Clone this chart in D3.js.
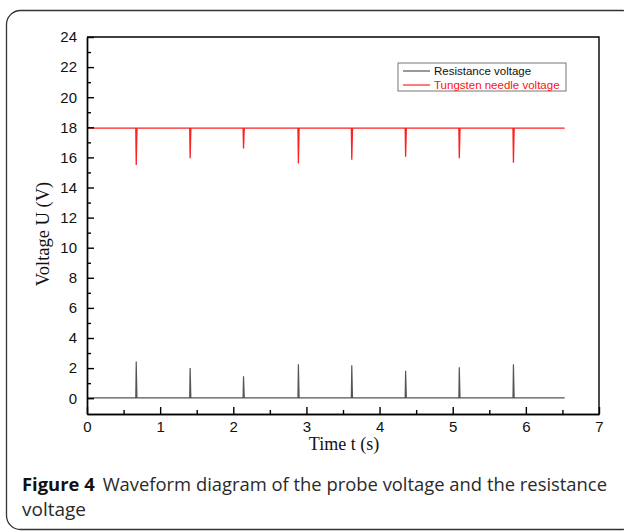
<!DOCTYPE html>
<html>
<head>
<meta charset="utf-8">
<script src="https://cdn.jsdelivr.net/npm/d3@7"></script>
<style>
  body { margin: 0; background: #fff; }
  svg { display: block; }
</style>
</head>
<body>
<script>
// data
var spikeTimes = [0.673, 1.41, 2.14, 2.89, 3.62, 4.356, 5.09, 5.83];
var needleBase = 17.95;
var needleMins = [15.5, 15.95, 16.6, 15.6, 15.85, 16.05, 15.95, 15.65];
var resistBase = 0.02;
var resistPeaks = [2.44, 2.0, 1.46, 2.26, 2.19, 1.82, 2.06, 2.26];
var tEnd = 6.53;
var xTicks = [0, 1, 2, 3, 4, 5, 6, 7];
var yTicks = [0, 2, 4, 6, 8, 10, 12, 14, 16, 18, 20, 22, 24];
var legendNames = ["Resistance voltage", "Tungsten needle voltage"];
var legendColors = ["#555", "#ff2020"];

var svgWidth = 624, svgHeight = 532;
var margin = { top: 37, right: 25, bottom: 118, left: 87 };
var chartWidth = svgWidth - margin.left - margin.right;   // 512
var chartHeight = svgHeight - margin.top - margin.bottom; // 377

var svg = d3.select("body").append("svg")
  .attr("width", svgWidth)
  .attr("height", svgHeight);

// outer rounded frame
svg.append("rect")
  .attr("x", 6.5).attr("y", 10.5)
  .attr("width", 630).attr("height", 519)
  .attr("rx", 14)
  .attr("fill", "none")
  .attr("stroke", "#333")
  .attr("stroke-width", 1.3);

var chartGroup = svg.append("g")
  .attr("transform", `translate(${margin.left}, ${margin.top})`);

var x = d3.scaleLinear().domain([0, 7]).range([0, chartWidth]);
var y = d3.scaleLinear().domain([-1.05, 24]).range([chartHeight, 0]);

// build waveform points from spike list
function wave(base, peaks) {
  var pts = [[0, base]];
  spikeTimes.forEach(function(t, i) {
    pts.push([t - 0.006, base]);
    pts.push([t, peaks[i]]);
    pts.push([t + 0.01, base]);
  });
  pts.push([tEnd, base]);
  return pts;
}

var line = d3.line().x(d => x(d[0])).y(d => y(d[1]));

chartGroup.append("path")
  .attr("d", line(wave(resistBase, resistPeaks)))
  .attr("fill", "none")
  .attr("stroke", legendColors[0])
  .attr("stroke-width", 1.2);

chartGroup.append("path")
  .attr("d", line(wave(needleBase, needleMins)))
  .attr("fill", "none")
  .attr("stroke", legendColors[1])
  .attr("stroke-width", 1.3);

// inward ticks: major + minor
var minorX = d3.range(0.5, 7, 1);
var minorY = d3.range(1, 24, 2);

var bottomAxis = d3.axisBottom(x).tickValues(xTicks).tickFormat(d3.format("d"))
  .tickSizeInner(-7).tickSizeOuter(0).tickPadding(7);
var bottomMinor = d3.axisBottom(x).tickValues(minorX).tickSizeInner(-4).tickSizeOuter(0).tickFormat("");
var leftAxis = d3.axisLeft(y).tickValues(yTicks).tickSizeInner(-7).tickSizeOuter(0).tickPadding(10);
var leftMinor = d3.axisLeft(y).tickValues(minorY).tickSizeInner(-4).tickSizeOuter(0).tickFormat("");

function styleAxis(g) {
  g.selectAll("path").attr("stroke", "#000").attr("stroke-width", 1.4);
  g.selectAll("line").attr("stroke", "#000").attr("stroke-width", 1.4);
  g.selectAll("text")
    .attr("fill", "#111")
    .style("font-family", "'Liberation Sans', Arial, sans-serif")
    .style("font-size", "15px");
}

chartGroup.append("g").attr("transform", `translate(0, ${chartHeight})`).call(bottomAxis).call(styleAxis);
chartGroup.append("g").attr("transform", `translate(0, ${chartHeight})`).call(bottomMinor).call(styleAxis);
chartGroup.append("g").call(leftAxis).call(styleAxis);
chartGroup.append("g").call(leftMinor).call(styleAxis);

// top and right frame lines
chartGroup.append("path")
  .attr("d", `M0,0H${chartWidth}V${chartHeight}`)
  .attr("fill", "none")
  .attr("stroke", "#000")
  .attr("stroke-width", 1.4);

// axis titles
chartGroup.append("text")
  .attr("x", chartWidth / 2 + 1)
  .attr("y", chartHeight + 36)
  .attr("text-anchor", "middle")
  .style("font-family", "'Liberation Serif', 'Times New Roman', serif")
  .style("font-size", "18px")
  .attr("fill", "#111")
  .text("Time t (s)");

chartGroup.append("text")
  .attr("transform", "rotate(-90)")
  .attr("x", -(234 - margin.top))
  .attr("y", -38)
  .attr("text-anchor", "middle")
  .style("font-family", "'Liberation Serif', 'Times New Roman', serif")
  .style("font-size", "18.5px")
  .attr("fill", "#111")
  .text("Voltage U (V)");

// legend
var legend = svg.append("g").attr("transform", "translate(398, 63)");
legend.append("rect")
  .attr("width", 168).attr("height", 28)
  .attr("fill", "#fff")
  .attr("stroke", "#777")
  .attr("stroke-width", 1);
legendNames.forEach(function(name, i) {
  var row = legend.append("g").attr("transform", `translate(0, ${8 + i * 14})`);
  row.append("line")
    .attr("x1", 5).attr("x2", 32)
    .attr("stroke", legendColors[i]).attr("stroke-width", 1.2);
  row.append("text")
    .attr("x", 36).attr("y", 4)
    .style("font-family", "'Liberation Sans', Arial, sans-serif")
    .style("font-size", "11.5px")
    .attr("fill", i === 0 ? "#111" : "#ff1010")
    .text(name);
});

// caption
var caption = svg.append("text")
  .attr("x", 22).attr("y", 491)
  .attr("textLength", 585)
  .attr("lengthAdjust", "spacingAndGlyphs")
  .style("font-family", "'Open Sans', 'Noto Sans', sans-serif")
  .style("font-size", "18.5px")
  .attr("fill", "#2a2a2a");
caption.append("tspan").style("font-weight", "bold").attr("fill", "#111").text("Figure 4");
caption.append("tspan").attr("dx", 8).text("Waveform diagram of the probe voltage and the resistance");
svg.append("text")
  .attr("x", 22).attr("y", 516)
  .attr("textLength", 64)
  .attr("lengthAdjust", "spacingAndGlyphs")
  .style("font-family", "'Open Sans', 'Noto Sans', sans-serif")
  .style("font-size", "18.5px")
  .attr("fill", "#2a2a2a")
  .text("voltage");
</script>
</body>
</html>
